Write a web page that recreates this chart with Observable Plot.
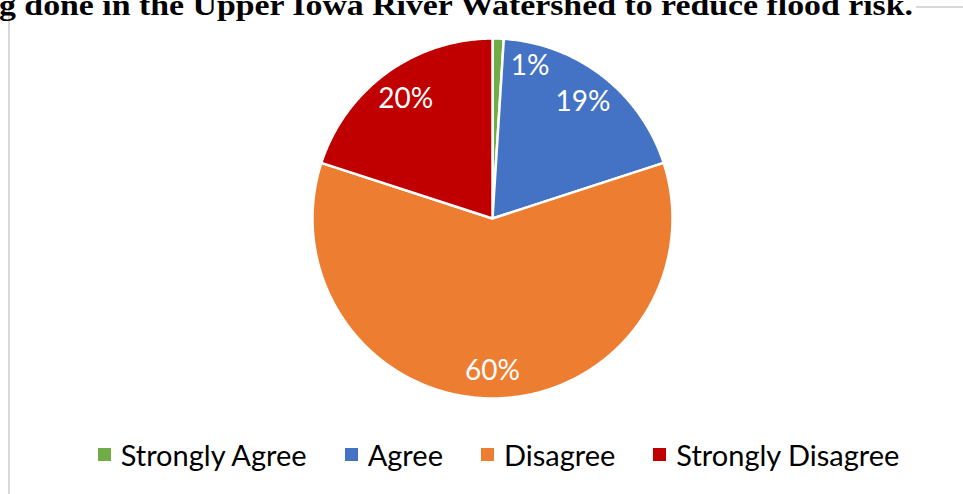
<!DOCTYPE html>
<html><head><meta charset="utf-8">
<script src="https://cdn.jsdelivr.net/npm/d3@7"></script>
<script src="https://cdn.jsdelivr.net/npm/@observablehq/plot@0.6"></script>
<style>
body{margin:0;background:#fff;}
#wrap{position:relative;width:963px;height:494px;overflow:hidden;background:#fff;}
#wrap svg.plot{position:absolute;left:0;top:0;}
.border{position:absolute;left:8px;top:6px;width:1000px;height:600px;border-left:2px solid #d9d9d9;border-top:2px solid #d9d9d9;}
#title{position:absolute;left:0;top:0;}
#legend{position:absolute;left:0;width:997px;top:437px;display:flex;justify-content:center;align-items:center;white-space:nowrap;font-family:Lato,"Open Sans",sans-serif;font-size:29px;color:#000;}
.item{display:flex;align-items:center;margin:0 19px;}
.sw{width:13px;height:13px;margin-right:10px;}
</style></head><body><div id="wrap"><div class="border"></div></div>
<script>
// ---- data ----
const categories = ["Strongly Agree", "Agree", "Disagree", "Strongly Disagree"];
const values = [1, 19, 60, 20];
const labels = ["1%", "19%", "60%", "20%"];
const colors = ["#70ad47", "#4472c4", "#ed7d31", "#c00000"];
const titleText = "g done in the Upper Iowa River Watershed to reduce flood risk.";

const W = 963, H = 494;
const data = categories.map((c, i) => ({category: c, value: values[i], label: labels[i], color: colors[i]}));
const arcs = d3.pie().sort(null).value(d => d.value)(data);

const features = {type: "FeatureCollection", features: arcs.map(a => {
  const n = Math.max(4, Math.ceil((a.endAngle - a.startAngle) / 0.01));
  const ring = [[0, 0]];
  for (let i = 0; i <= n; i++) {
    const t = a.startAngle + (a.endAngle - a.startAngle) * i / n;
    ring.push([Math.sin(t), -Math.cos(t)]);
  }
  ring.push([0, 0]);
  return {type: "Feature", properties: a.data, geometry: {type: "Polygon", coordinates: [ring]}};
})};

const labelData = arcs.map(a => {
  const span = a.endAngle - a.startAngle;
  let ang = (a.startAngle + a.endAngle) / 2, r = 0.82;
  if (span < 0.1) { ang = a.endAngle + 0.18; r = 0.87; }
  if (span > Math.PI) r = 0.85;
  return {label: a.data.label, x: r * Math.sin(ang), y: -r * Math.cos(ang)};
});

const chart = Plot.plot({
  width: W, height: H,
  marginLeft: 312, marginRight: W - 672, marginTop: 38, marginBottom: H - 398,
  projection: {type: "identity", domain: {type: "MultiPoint", coordinates: [[-1, -1], [1, 1]]}},
  color: {type: "identity"},
  style: {background: "transparent"},
  marks: [
    Plot.geo(features.features, {fill: d => d.properties.color, stroke: "white", strokeWidth: 2.5}),
    Plot.text(labelData, {x: "x", y: "y", text: "label", fill: "white", fontSize: 28, fontFamily: "Lato, 'Open Sans', sans-serif"})
  ]
});
chart.classList.add("plot");
const wrap = document.getElementById("wrap");
wrap.appendChild(chart);

// title (cropped at the top in the reference)
const tsvg = d3.select(wrap).append("svg").attr("id", "title").attr("width", W).attr("height", 24);
tsvg.append("rect").attr("x", 11).attr("y", 0).attr("width", 905).attr("height", 19).attr("fill", "white");
tsvg.append("text").attr("x", -1).attr("y", 15)
  .attr("textLength", 914).attr("lengthAdjust", "spacingAndGlyphs")
  .attr("font-family", "'Liberation Serif', 'DejaVu Serif', serif").attr("font-weight", "bold")
  .attr("font-size", 30).attr("fill", "#000").text(titleText);

// legend
const lg = d3.select(wrap).append("div").attr("id", "legend");
const items = lg.selectAll(".item").data(data).join("div").attr("class", "item");
items.append("div").attr("class", "sw").style("background", d => d.color);
items.append("span").text(d => d.category);
</script></body></html>
